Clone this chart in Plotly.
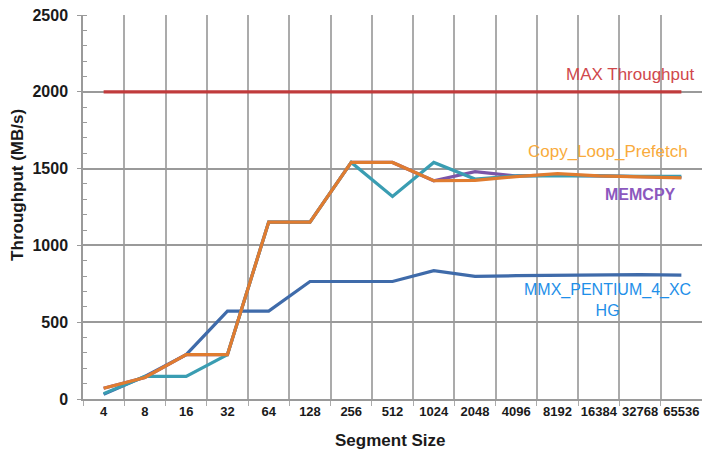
import plotly.graph_objects as go

categories = ["4", "8", "16", "32", "64", "128", "256", "512", "1024", "2048",
              "4096", "8192", "16384", "32768", "65536"]

max_throughput = [2000] * 15
mmx_pentium = [30, 147, 289, 572, 572, 765, 765, 765, 835, 798, 803, 805, 808, 810, 806]
memcpy = [70, 140, 289, 289, 1152, 1152, 1540, 1540, 1421, 1480, 1452, 1458, 1452, 1446, 1442]
teal_series = [35, 147, 147, 289, 1152, 1152, 1540, 1319, 1540, 1432, 1453, 1455, 1452, 1450, 1450]
copy_loop_prefetch = [70, 140, 289, 289, 1152, 1152, 1540, 1540, 1421, 1423, 1448, 1467, 1453, 1445, 1440]

x = list(range(len(categories)))

FONT = "Liberation Sans"
fig = go.Figure()

def add(y, color, name):
    fig.add_trace(go.Scatter(x=x, y=y, mode="lines", name=name,
                             line=dict(color=color, width=3.2), showlegend=False))

add(max_throughput, "#C03B3C", "MAX Throughput")
add(mmx_pentium, "#3F6BAA", "MMX_PENTIUM_4_XCHG")
add(memcpy, "#7B55A8", "MEMCPY")
add(teal_series, "#3A9DB2", "")
add(copy_loop_prefetch, "#E07C30", "Copy_Loop_Prefetch")

annos = [
    dict(x=14.35, y=2111, text="MAX Throughput", color="#D0484C", xanchor="right", weight="normal", size=17),
    dict(x=14.21, y=1610, text="Copy_Loop_Prefetch", color="#F9AB3C", xanchor="right", weight="normal", size=17),
    dict(x=13.92, y=1330, text="MEMCPY", color="#8C58BE", xanchor="right", weight="bold", size=16),
    dict(x=12.21, y=643, text="MMX_PENTIUM_4_XC<br>HG", color="#1E8FE9", xanchor="center", weight="normal", size=16),
]
for a in annos:
    fig.add_annotation(x=a["x"], y=a["y"], xref="x", yref="y", text=a["text"],
                       showarrow=False, xanchor=a["xanchor"], yanchor="middle",
                       align="center",
                       font=dict(family=FONT, size=a["size"], color=a["color"], weight=a["weight"]))

fig.add_annotation(x=-0.107, y=0.557, xref="paper", yref="paper", text="Throughput (MB/s)",
                   textangle=-90, showarrow=False, xanchor="center", yanchor="middle",
                   font=dict(family=FONT, size=17, color="#1a1a1a", weight="bold"))
fig.add_annotation(x=0.496, y=-0.107, xref="paper", yref="paper", text="Segment Size",
                   showarrow=False, xanchor="center", yanchor="middle",
                   font=dict(family=FONT, size=17, color="#1a1a1a", weight="bold"))

fig.update_layout(
    width=702, height=450,
    margin=dict(l=83, r=0, t=15, b=51, autoexpand=False),
    paper_bgcolor="white", plot_bgcolor="white",
    xaxis=dict(range=[-0.5, 14.5], tickvals=x, ticktext=categories,
               showgrid=False, ticks="", zeroline=False, ticklabeloverflow="allow",
               showline=True, linecolor="#9a9a9a", linewidth=1.5,
               tickfont=dict(family=FONT, size=13, color="#1a1a1a", weight="bold"),
               minor=dict(tick0=0.5, dtick=1, showgrid=True, gridcolor="#ababab",
                          gridwidth=1.5, ticks="outside", ticklen=5, tickcolor="#ababab")),
    yaxis=dict(range=[0, 2500], dtick=500, showgrid=True, gridcolor="#9a9a9a",
               gridwidth=1.5, ticks="outside", ticklen=4, tickcolor="#9a9a9a",
               ticklabeloverflow="allow", ticklabelstandoff=6,
               zeroline=False, showline=True, linecolor="#9a9a9a", linewidth=1.5,
               tickfont=dict(family=FONT, size=16, color="#1a1a1a", weight="bold"),
               minor=dict(dtick=100, ticks="inside", ticklen=4, tickcolor="#9a9a9a",
                          showgrid=False)),
)

fig.write_html("out.html", config={"displayModeBar": False},
               post_script="document.body.style.margin='0';document.body.style.overflow='hidden';")
